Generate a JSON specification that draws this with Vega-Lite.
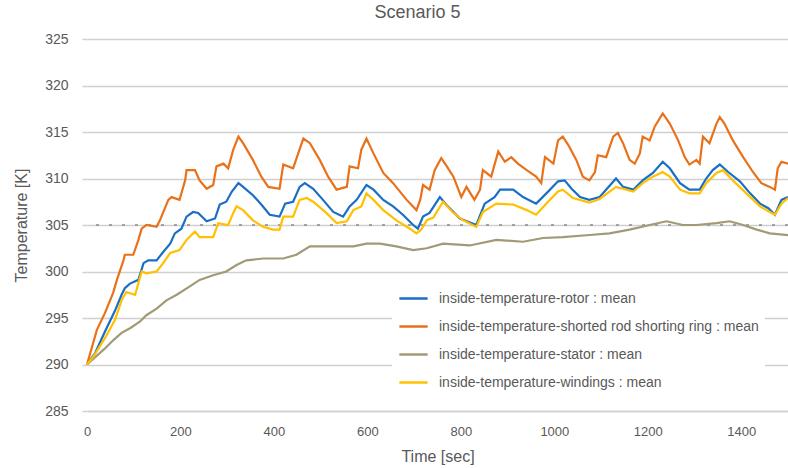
{
  "$schema": "https://vega.github.io/schema/vega-lite/v6.json",
  "width": 701,
  "height": 372,
  "autosize": {"type": "none"},
  "padding": {"left": 87, "top": 39, "right": 0, "bottom": 57},
  "background": "white",
  "config": {
    "font": "Liberation Sans",
    "view": {"stroke": null},
    "axis": {"labelColor": "#595959", "titleColor": "#595959", "titleFontWeight": "normal", "labelFontSize": 13, "titleFontSize": 16}
  },
  "title": {"text": "Scenario 5", "fontSize": 18, "fontWeight": "normal", "color": "#595959", "anchor": "middle", "dx": -20, "offset": 10},
  "datasets": {
    "series": [
      {"t": 0, "v": 290.0, "s": "inside-temperature-rotor : mean"},
      {"t": 17, "v": 291.2, "s": "inside-temperature-rotor : mean"},
      {"t": 38, "v": 293.5, "s": "inside-temperature-rotor : mean"},
      {"t": 60, "v": 295.8, "s": "inside-temperature-rotor : mean"},
      {"t": 74, "v": 297.5, "s": "inside-temperature-rotor : mean"},
      {"t": 81, "v": 298.2, "s": "inside-temperature-rotor : mean"},
      {"t": 92, "v": 298.7, "s": "inside-temperature-rotor : mean"},
      {"t": 110, "v": 299.1, "s": "inside-temperature-rotor : mean"},
      {"t": 121, "v": 300.9, "s": "inside-temperature-rotor : mean"},
      {"t": 131, "v": 301.2, "s": "inside-temperature-rotor : mean"},
      {"t": 149, "v": 301.2, "s": "inside-temperature-rotor : mean"},
      {"t": 163, "v": 302.1, "s": "inside-temperature-rotor : mean"},
      {"t": 178, "v": 303.0, "s": "inside-temperature-rotor : mean"},
      {"t": 188, "v": 304.1, "s": "inside-temperature-rotor : mean"},
      {"t": 202, "v": 304.6, "s": "inside-temperature-rotor : mean"},
      {"t": 213, "v": 305.9, "s": "inside-temperature-rotor : mean"},
      {"t": 227, "v": 306.4, "s": "inside-temperature-rotor : mean"},
      {"t": 238, "v": 306.3, "s": "inside-temperature-rotor : mean"},
      {"t": 256, "v": 305.4, "s": "inside-temperature-rotor : mean"},
      {"t": 274, "v": 305.7, "s": "inside-temperature-rotor : mean"},
      {"t": 284, "v": 307.2, "s": "inside-temperature-rotor : mean"},
      {"t": 298, "v": 307.5, "s": "inside-temperature-rotor : mean"},
      {"t": 310, "v": 308.6, "s": "inside-temperature-rotor : mean"},
      {"t": 324, "v": 309.5, "s": "inside-temperature-rotor : mean"},
      {"t": 334, "v": 309.1, "s": "inside-temperature-rotor : mean"},
      {"t": 355, "v": 308.2, "s": "inside-temperature-rotor : mean"},
      {"t": 373, "v": 307.2, "s": "inside-temperature-rotor : mean"},
      {"t": 391, "v": 306.1, "s": "inside-temperature-rotor : mean"},
      {"t": 412, "v": 305.9, "s": "inside-temperature-rotor : mean"},
      {"t": 424, "v": 307.3, "s": "inside-temperature-rotor : mean"},
      {"t": 441, "v": 307.5, "s": "inside-temperature-rotor : mean"},
      {"t": 455, "v": 309.1, "s": "inside-temperature-rotor : mean"},
      {"t": 466, "v": 309.5, "s": "inside-temperature-rotor : mean"},
      {"t": 484, "v": 308.9, "s": "inside-temperature-rotor : mean"},
      {"t": 505, "v": 307.7, "s": "inside-temperature-rotor : mean"},
      {"t": 527, "v": 306.4, "s": "inside-temperature-rotor : mean"},
      {"t": 548, "v": 305.9, "s": "inside-temperature-rotor : mean"},
      {"t": 562, "v": 307.0, "s": "inside-temperature-rotor : mean"},
      {"t": 577, "v": 307.7, "s": "inside-temperature-rotor : mean"},
      {"t": 598, "v": 309.3, "s": "inside-temperature-rotor : mean"},
      {"t": 613, "v": 308.8, "s": "inside-temperature-rotor : mean"},
      {"t": 634, "v": 307.7, "s": "inside-temperature-rotor : mean"},
      {"t": 655, "v": 307.0, "s": "inside-temperature-rotor : mean"},
      {"t": 676, "v": 306.1, "s": "inside-temperature-rotor : mean"},
      {"t": 698, "v": 305.0, "s": "inside-temperature-rotor : mean"},
      {"t": 708, "v": 304.6, "s": "inside-temperature-rotor : mean"},
      {"t": 719, "v": 305.9, "s": "inside-temperature-rotor : mean"},
      {"t": 733, "v": 306.3, "s": "inside-temperature-rotor : mean"},
      {"t": 755, "v": 308.0, "s": "inside-temperature-rotor : mean"},
      {"t": 772, "v": 307.0, "s": "inside-temperature-rotor : mean"},
      {"t": 798, "v": 305.7, "s": "inside-temperature-rotor : mean"},
      {"t": 833, "v": 305.0, "s": "inside-temperature-rotor : mean"},
      {"t": 851, "v": 307.3, "s": "inside-temperature-rotor : mean"},
      {"t": 872, "v": 308.0, "s": "inside-temperature-rotor : mean"},
      {"t": 884, "v": 308.8, "s": "inside-temperature-rotor : mean"},
      {"t": 912, "v": 308.8, "s": "inside-temperature-rotor : mean"},
      {"t": 933, "v": 308.0, "s": "inside-temperature-rotor : mean"},
      {"t": 961, "v": 307.3, "s": "inside-temperature-rotor : mean"},
      {"t": 983, "v": 308.4, "s": "inside-temperature-rotor : mean"},
      {"t": 1008, "v": 309.7, "s": "inside-temperature-rotor : mean"},
      {"t": 1022, "v": 309.8, "s": "inside-temperature-rotor : mean"},
      {"t": 1037, "v": 308.9, "s": "inside-temperature-rotor : mean"},
      {"t": 1055, "v": 308.0, "s": "inside-temperature-rotor : mean"},
      {"t": 1075, "v": 307.7, "s": "inside-temperature-rotor : mean"},
      {"t": 1097, "v": 308.0, "s": "inside-temperature-rotor : mean"},
      {"t": 1132, "v": 310.0, "s": "inside-temperature-rotor : mean"},
      {"t": 1147, "v": 309.1, "s": "inside-temperature-rotor : mean"},
      {"t": 1169, "v": 308.8, "s": "inside-temperature-rotor : mean"},
      {"t": 1189, "v": 309.8, "s": "inside-temperature-rotor : mean"},
      {"t": 1211, "v": 310.6, "s": "inside-temperature-rotor : mean"},
      {"t": 1232, "v": 311.8, "s": "inside-temperature-rotor : mean"},
      {"t": 1247, "v": 311.1, "s": "inside-temperature-rotor : mean"},
      {"t": 1269, "v": 309.5, "s": "inside-temperature-rotor : mean"},
      {"t": 1289, "v": 308.8, "s": "inside-temperature-rotor : mean"},
      {"t": 1311, "v": 308.8, "s": "inside-temperature-rotor : mean"},
      {"t": 1325, "v": 310.0, "s": "inside-temperature-rotor : mean"},
      {"t": 1339, "v": 310.9, "s": "inside-temperature-rotor : mean"},
      {"t": 1354, "v": 311.5, "s": "inside-temperature-rotor : mean"},
      {"t": 1372, "v": 310.7, "s": "inside-temperature-rotor : mean"},
      {"t": 1397, "v": 309.7, "s": "inside-temperature-rotor : mean"},
      {"t": 1419, "v": 308.4, "s": "inside-temperature-rotor : mean"},
      {"t": 1440, "v": 307.3, "s": "inside-temperature-rotor : mean"},
      {"t": 1458, "v": 306.8, "s": "inside-temperature-rotor : mean"},
      {"t": 1472, "v": 306.1, "s": "inside-temperature-rotor : mean"},
      {"t": 1486, "v": 307.7, "s": "inside-temperature-rotor : mean"},
      {"t": 1500, "v": 308.0, "s": "inside-temperature-rotor : mean"},

      {"t": 0, "v": 290.0, "s": "inside-temperature-shorted rod shorting ring : mean"},
      {"t": 21, "v": 293.7, "s": "inside-temperature-shorted rod shorting ring : mean"},
      {"t": 38, "v": 295.5, "s": "inside-temperature-shorted rod shorting ring : mean"},
      {"t": 56, "v": 297.7, "s": "inside-temperature-shorted rod shorting ring : mean"},
      {"t": 64, "v": 299.1, "s": "inside-temperature-shorted rod shorting ring : mean"},
      {"t": 78, "v": 301.2, "s": "inside-temperature-shorted rod shorting ring : mean"},
      {"t": 81, "v": 301.8, "s": "inside-temperature-shorted rod shorting ring : mean"},
      {"t": 99, "v": 301.8, "s": "inside-temperature-shorted rod shorting ring : mean"},
      {"t": 110, "v": 303.4, "s": "inside-temperature-shorted rod shorting ring : mean"},
      {"t": 117, "v": 304.6, "s": "inside-temperature-shorted rod shorting ring : mean"},
      {"t": 127, "v": 305.0, "s": "inside-temperature-shorted rod shorting ring : mean"},
      {"t": 149, "v": 304.8, "s": "inside-temperature-shorted rod shorting ring : mean"},
      {"t": 156, "v": 305.5, "s": "inside-temperature-shorted rod shorting ring : mean"},
      {"t": 174, "v": 307.7, "s": "inside-temperature-shorted rod shorting ring : mean"},
      {"t": 181, "v": 308.0, "s": "inside-temperature-shorted rod shorting ring : mean"},
      {"t": 198, "v": 307.7, "s": "inside-temperature-shorted rod shorting ring : mean"},
      {"t": 210, "v": 309.8, "s": "inside-temperature-shorted rod shorting ring : mean"},
      {"t": 213, "v": 310.9, "s": "inside-temperature-shorted rod shorting ring : mean"},
      {"t": 231, "v": 310.9, "s": "inside-temperature-shorted rod shorting ring : mean"},
      {"t": 241, "v": 309.8, "s": "inside-temperature-shorted rod shorting ring : mean"},
      {"t": 256, "v": 308.9, "s": "inside-temperature-shorted rod shorting ring : mean"},
      {"t": 270, "v": 309.3, "s": "inside-temperature-shorted rod shorting ring : mean"},
      {"t": 277, "v": 311.3, "s": "inside-temperature-shorted rod shorting ring : mean"},
      {"t": 292, "v": 311.6, "s": "inside-temperature-shorted rod shorting ring : mean"},
      {"t": 302, "v": 311.1, "s": "inside-temperature-shorted rod shorting ring : mean"},
      {"t": 313, "v": 313.1, "s": "inside-temperature-shorted rod shorting ring : mean"},
      {"t": 324, "v": 314.5, "s": "inside-temperature-shorted rod shorting ring : mean"},
      {"t": 334, "v": 313.8, "s": "inside-temperature-shorted rod shorting ring : mean"},
      {"t": 355, "v": 312.0, "s": "inside-temperature-shorted rod shorting ring : mean"},
      {"t": 373, "v": 310.2, "s": "inside-temperature-shorted rod shorting ring : mean"},
      {"t": 388, "v": 309.1, "s": "inside-temperature-shorted rod shorting ring : mean"},
      {"t": 412, "v": 308.9, "s": "inside-temperature-shorted rod shorting ring : mean"},
      {"t": 420, "v": 311.5, "s": "inside-temperature-shorted rod shorting ring : mean"},
      {"t": 441, "v": 311.1, "s": "inside-temperature-shorted rod shorting ring : mean"},
      {"t": 452, "v": 312.7, "s": "inside-temperature-shorted rod shorting ring : mean"},
      {"t": 463, "v": 314.3, "s": "inside-temperature-shorted rod shorting ring : mean"},
      {"t": 477, "v": 313.8, "s": "inside-temperature-shorted rod shorting ring : mean"},
      {"t": 498, "v": 312.0, "s": "inside-temperature-shorted rod shorting ring : mean"},
      {"t": 516, "v": 310.2, "s": "inside-temperature-shorted rod shorting ring : mean"},
      {"t": 534, "v": 308.8, "s": "inside-temperature-shorted rod shorting ring : mean"},
      {"t": 556, "v": 309.1, "s": "inside-temperature-shorted rod shorting ring : mean"},
      {"t": 562, "v": 311.3, "s": "inside-temperature-shorted rod shorting ring : mean"},
      {"t": 580, "v": 311.1, "s": "inside-temperature-shorted rod shorting ring : mean"},
      {"t": 587, "v": 313.1, "s": "inside-temperature-shorted rod shorting ring : mean"},
      {"t": 598, "v": 314.3, "s": "inside-temperature-shorted rod shorting ring : mean"},
      {"t": 613, "v": 312.7, "s": "inside-temperature-shorted rod shorting ring : mean"},
      {"t": 634, "v": 310.6, "s": "inside-temperature-shorted rod shorting ring : mean"},
      {"t": 655, "v": 309.5, "s": "inside-temperature-shorted rod shorting ring : mean"},
      {"t": 684, "v": 307.7, "s": "inside-temperature-shorted rod shorting ring : mean"},
      {"t": 705, "v": 306.6, "s": "inside-temperature-shorted rod shorting ring : mean"},
      {"t": 713, "v": 307.7, "s": "inside-temperature-shorted rod shorting ring : mean"},
      {"t": 719, "v": 309.3, "s": "inside-temperature-shorted rod shorting ring : mean"},
      {"t": 733, "v": 308.8, "s": "inside-temperature-shorted rod shorting ring : mean"},
      {"t": 744, "v": 310.9, "s": "inside-temperature-shorted rod shorting ring : mean"},
      {"t": 758, "v": 312.2, "s": "inside-temperature-shorted rod shorting ring : mean"},
      {"t": 770, "v": 311.3, "s": "inside-temperature-shorted rod shorting ring : mean"},
      {"t": 784, "v": 310.2, "s": "inside-temperature-shorted rod shorting ring : mean"},
      {"t": 801, "v": 308.0, "s": "inside-temperature-shorted rod shorting ring : mean"},
      {"t": 812, "v": 309.1, "s": "inside-temperature-shorted rod shorting ring : mean"},
      {"t": 829, "v": 307.7, "s": "inside-temperature-shorted rod shorting ring : mean"},
      {"t": 841, "v": 308.8, "s": "inside-temperature-shorted rod shorting ring : mean"},
      {"t": 847, "v": 310.9, "s": "inside-temperature-shorted rod shorting ring : mean"},
      {"t": 865, "v": 310.2, "s": "inside-temperature-shorted rod shorting ring : mean"},
      {"t": 880, "v": 312.9, "s": "inside-temperature-shorted rod shorting ring : mean"},
      {"t": 894, "v": 311.8, "s": "inside-temperature-shorted rod shorting ring : mean"},
      {"t": 908, "v": 312.3, "s": "inside-temperature-shorted rod shorting ring : mean"},
      {"t": 922, "v": 311.6, "s": "inside-temperature-shorted rod shorting ring : mean"},
      {"t": 941, "v": 310.9, "s": "inside-temperature-shorted rod shorting ring : mean"},
      {"t": 961, "v": 310.2, "s": "inside-temperature-shorted rod shorting ring : mean"},
      {"t": 972, "v": 309.5, "s": "inside-temperature-shorted rod shorting ring : mean"},
      {"t": 980, "v": 312.3, "s": "inside-temperature-shorted rod shorting ring : mean"},
      {"t": 998, "v": 311.6, "s": "inside-temperature-shorted rod shorting ring : mean"},
      {"t": 1008, "v": 314.1, "s": "inside-temperature-shorted rod shorting ring : mean"},
      {"t": 1018, "v": 314.5, "s": "inside-temperature-shorted rod shorting ring : mean"},
      {"t": 1030, "v": 313.6, "s": "inside-temperature-shorted rod shorting ring : mean"},
      {"t": 1047, "v": 312.0, "s": "inside-temperature-shorted rod shorting ring : mean"},
      {"t": 1061, "v": 310.2, "s": "inside-temperature-shorted rod shorting ring : mean"},
      {"t": 1075, "v": 309.8, "s": "inside-temperature-shorted rod shorting ring : mean"},
      {"t": 1087, "v": 310.7, "s": "inside-temperature-shorted rod shorting ring : mean"},
      {"t": 1093, "v": 312.5, "s": "inside-temperature-shorted rod shorting ring : mean"},
      {"t": 1111, "v": 312.3, "s": "inside-temperature-shorted rod shorting ring : mean"},
      {"t": 1126, "v": 314.5, "s": "inside-temperature-shorted rod shorting ring : mean"},
      {"t": 1136, "v": 314.9, "s": "inside-temperature-shorted rod shorting ring : mean"},
      {"t": 1147, "v": 313.8, "s": "inside-temperature-shorted rod shorting ring : mean"},
      {"t": 1161, "v": 312.0, "s": "inside-temperature-shorted rod shorting ring : mean"},
      {"t": 1172, "v": 311.6, "s": "inside-temperature-shorted rod shorting ring : mean"},
      {"t": 1183, "v": 312.7, "s": "inside-temperature-shorted rod shorting ring : mean"},
      {"t": 1189, "v": 314.5, "s": "inside-temperature-shorted rod shorting ring : mean"},
      {"t": 1204, "v": 314.1, "s": "inside-temperature-shorted rod shorting ring : mean"},
      {"t": 1215, "v": 315.6, "s": "inside-temperature-shorted rod shorting ring : mean"},
      {"t": 1232, "v": 317.0, "s": "inside-temperature-shorted rod shorting ring : mean"},
      {"t": 1247, "v": 315.9, "s": "inside-temperature-shorted rod shorting ring : mean"},
      {"t": 1265, "v": 314.1, "s": "inside-temperature-shorted rod shorting ring : mean"},
      {"t": 1279, "v": 312.3, "s": "inside-temperature-shorted rod shorting ring : mean"},
      {"t": 1289, "v": 311.5, "s": "inside-temperature-shorted rod shorting ring : mean"},
      {"t": 1304, "v": 312.0, "s": "inside-temperature-shorted rod shorting ring : mean"},
      {"t": 1311, "v": 311.6, "s": "inside-temperature-shorted rod shorting ring : mean"},
      {"t": 1318, "v": 314.5, "s": "inside-temperature-shorted rod shorting ring : mean"},
      {"t": 1332, "v": 313.8, "s": "inside-temperature-shorted rod shorting ring : mean"},
      {"t": 1347, "v": 315.9, "s": "inside-temperature-shorted rod shorting ring : mean"},
      {"t": 1354, "v": 316.6, "s": "inside-temperature-shorted rod shorting ring : mean"},
      {"t": 1364, "v": 315.9, "s": "inside-temperature-shorted rod shorting ring : mean"},
      {"t": 1382, "v": 314.1, "s": "inside-temperature-shorted rod shorting ring : mean"},
      {"t": 1404, "v": 312.3, "s": "inside-temperature-shorted rod shorting ring : mean"},
      {"t": 1425, "v": 310.7, "s": "inside-temperature-shorted rod shorting ring : mean"},
      {"t": 1443, "v": 309.5, "s": "inside-temperature-shorted rod shorting ring : mean"},
      {"t": 1461, "v": 309.1, "s": "inside-temperature-shorted rod shorting ring : mean"},
      {"t": 1472, "v": 308.8, "s": "inside-temperature-shorted rod shorting ring : mean"},
      {"t": 1478, "v": 311.1, "s": "inside-temperature-shorted rod shorting ring : mean"},
      {"t": 1486, "v": 311.8, "s": "inside-temperature-shorted rod shorting ring : mean"},
      {"t": 1500, "v": 311.6, "s": "inside-temperature-shorted rod shorting ring : mean"},

      {"t": 0, "v": 290.0, "s": "inside-temperature-stator : mean"},
      {"t": 38, "v": 291.7, "s": "inside-temperature-stator : mean"},
      {"t": 56, "v": 292.6, "s": "inside-temperature-stator : mean"},
      {"t": 74, "v": 293.4, "s": "inside-temperature-stator : mean"},
      {"t": 92, "v": 293.9, "s": "inside-temperature-stator : mean"},
      {"t": 113, "v": 294.6, "s": "inside-temperature-stator : mean"},
      {"t": 127, "v": 295.3, "s": "inside-temperature-stator : mean"},
      {"t": 149, "v": 296.0, "s": "inside-temperature-stator : mean"},
      {"t": 170, "v": 296.9, "s": "inside-temperature-stator : mean"},
      {"t": 192, "v": 297.5, "s": "inside-temperature-stator : mean"},
      {"t": 220, "v": 298.4, "s": "inside-temperature-stator : mean"},
      {"t": 241, "v": 299.1, "s": "inside-temperature-stator : mean"},
      {"t": 270, "v": 299.6, "s": "inside-temperature-stator : mean"},
      {"t": 298, "v": 300.0, "s": "inside-temperature-stator : mean"},
      {"t": 320, "v": 300.7, "s": "inside-temperature-stator : mean"},
      {"t": 341, "v": 301.2, "s": "inside-temperature-stator : mean"},
      {"t": 377, "v": 301.4, "s": "inside-temperature-stator : mean"},
      {"t": 420, "v": 301.4, "s": "inside-temperature-stator : mean"},
      {"t": 448, "v": 301.8, "s": "inside-temperature-stator : mean"},
      {"t": 477, "v": 302.7, "s": "inside-temperature-stator : mean"},
      {"t": 527, "v": 302.7, "s": "inside-temperature-stator : mean"},
      {"t": 570, "v": 302.7, "s": "inside-temperature-stator : mean"},
      {"t": 598, "v": 303.0, "s": "inside-temperature-stator : mean"},
      {"t": 627, "v": 303.0, "s": "inside-temperature-stator : mean"},
      {"t": 662, "v": 302.7, "s": "inside-temperature-stator : mean"},
      {"t": 698, "v": 302.3, "s": "inside-temperature-stator : mean"},
      {"t": 727, "v": 302.5, "s": "inside-temperature-stator : mean"},
      {"t": 762, "v": 303.0, "s": "inside-temperature-stator : mean"},
      {"t": 819, "v": 302.8, "s": "inside-temperature-stator : mean"},
      {"t": 876, "v": 303.4, "s": "inside-temperature-stator : mean"},
      {"t": 933, "v": 303.2, "s": "inside-temperature-stator : mean"},
      {"t": 976, "v": 303.6, "s": "inside-temperature-stator : mean"},
      {"t": 1018, "v": 303.7, "s": "inside-temperature-stator : mean"},
      {"t": 1069, "v": 303.9, "s": "inside-temperature-stator : mean"},
      {"t": 1118, "v": 304.1, "s": "inside-temperature-stator : mean"},
      {"t": 1161, "v": 304.5, "s": "inside-temperature-stator : mean"},
      {"t": 1204, "v": 305.0, "s": "inside-temperature-stator : mean"},
      {"t": 1240, "v": 305.4, "s": "inside-temperature-stator : mean"},
      {"t": 1275, "v": 305.0, "s": "inside-temperature-stator : mean"},
      {"t": 1304, "v": 305.0, "s": "inside-temperature-stator : mean"},
      {"t": 1347, "v": 305.2, "s": "inside-temperature-stator : mean"},
      {"t": 1375, "v": 305.4, "s": "inside-temperature-stator : mean"},
      {"t": 1404, "v": 305.0, "s": "inside-temperature-stator : mean"},
      {"t": 1433, "v": 304.5, "s": "inside-temperature-stator : mean"},
      {"t": 1461, "v": 304.1, "s": "inside-temperature-stator : mean"},
      {"t": 1500, "v": 303.9, "s": "inside-temperature-stator : mean"},

      {"t": 0, "v": 290.0, "s": "inside-temperature-windings : mean"},
      {"t": 13, "v": 290.8, "s": "inside-temperature-windings : mean"},
      {"t": 38, "v": 292.8, "s": "inside-temperature-windings : mean"},
      {"t": 60, "v": 294.8, "s": "inside-temperature-windings : mean"},
      {"t": 74, "v": 296.9, "s": "inside-temperature-windings : mean"},
      {"t": 84, "v": 297.8, "s": "inside-temperature-windings : mean"},
      {"t": 103, "v": 297.5, "s": "inside-temperature-windings : mean"},
      {"t": 117, "v": 300.0, "s": "inside-temperature-windings : mean"},
      {"t": 127, "v": 299.8, "s": "inside-temperature-windings : mean"},
      {"t": 149, "v": 300.0, "s": "inside-temperature-windings : mean"},
      {"t": 163, "v": 300.9, "s": "inside-temperature-windings : mean"},
      {"t": 178, "v": 302.0, "s": "inside-temperature-windings : mean"},
      {"t": 198, "v": 302.3, "s": "inside-temperature-windings : mean"},
      {"t": 213, "v": 303.4, "s": "inside-temperature-windings : mean"},
      {"t": 231, "v": 304.3, "s": "inside-temperature-windings : mean"},
      {"t": 241, "v": 303.7, "s": "inside-temperature-windings : mean"},
      {"t": 270, "v": 303.7, "s": "inside-temperature-windings : mean"},
      {"t": 281, "v": 305.2, "s": "inside-temperature-windings : mean"},
      {"t": 302, "v": 305.0, "s": "inside-temperature-windings : mean"},
      {"t": 313, "v": 306.3, "s": "inside-temperature-windings : mean"},
      {"t": 320, "v": 307.0, "s": "inside-temperature-windings : mean"},
      {"t": 334, "v": 306.6, "s": "inside-temperature-windings : mean"},
      {"t": 355, "v": 305.5, "s": "inside-temperature-windings : mean"},
      {"t": 377, "v": 304.8, "s": "inside-temperature-windings : mean"},
      {"t": 398, "v": 304.5, "s": "inside-temperature-windings : mean"},
      {"t": 412, "v": 304.5, "s": "inside-temperature-windings : mean"},
      {"t": 420, "v": 305.9, "s": "inside-temperature-windings : mean"},
      {"t": 441, "v": 305.9, "s": "inside-temperature-windings : mean"},
      {"t": 455, "v": 307.7, "s": "inside-temperature-windings : mean"},
      {"t": 470, "v": 307.9, "s": "inside-temperature-windings : mean"},
      {"t": 484, "v": 307.5, "s": "inside-temperature-windings : mean"},
      {"t": 512, "v": 306.3, "s": "inside-temperature-windings : mean"},
      {"t": 534, "v": 305.2, "s": "inside-temperature-windings : mean"},
      {"t": 556, "v": 305.4, "s": "inside-temperature-windings : mean"},
      {"t": 570, "v": 306.6, "s": "inside-temperature-windings : mean"},
      {"t": 587, "v": 307.0, "s": "inside-temperature-windings : mean"},
      {"t": 598, "v": 308.4, "s": "inside-temperature-windings : mean"},
      {"t": 613, "v": 307.7, "s": "inside-temperature-windings : mean"},
      {"t": 634, "v": 306.6, "s": "inside-temperature-windings : mean"},
      {"t": 662, "v": 305.5, "s": "inside-temperature-windings : mean"},
      {"t": 691, "v": 304.6, "s": "inside-temperature-windings : mean"},
      {"t": 705, "v": 304.1, "s": "inside-temperature-windings : mean"},
      {"t": 715, "v": 304.5, "s": "inside-temperature-windings : mean"},
      {"t": 727, "v": 305.5, "s": "inside-temperature-windings : mean"},
      {"t": 741, "v": 305.8, "s": "inside-temperature-windings : mean"},
      {"t": 762, "v": 307.5, "s": "inside-temperature-windings : mean"},
      {"t": 784, "v": 306.3, "s": "inside-temperature-windings : mean"},
      {"t": 805, "v": 305.5, "s": "inside-temperature-windings : mean"},
      {"t": 833, "v": 304.8, "s": "inside-temperature-windings : mean"},
      {"t": 847, "v": 306.4, "s": "inside-temperature-windings : mean"},
      {"t": 876, "v": 307.3, "s": "inside-temperature-windings : mean"},
      {"t": 912, "v": 307.2, "s": "inside-temperature-windings : mean"},
      {"t": 941, "v": 306.6, "s": "inside-temperature-windings : mean"},
      {"t": 961, "v": 306.1, "s": "inside-temperature-windings : mean"},
      {"t": 983, "v": 307.3, "s": "inside-temperature-windings : mean"},
      {"t": 1008, "v": 308.6, "s": "inside-temperature-windings : mean"},
      {"t": 1018, "v": 308.8, "s": "inside-temperature-windings : mean"},
      {"t": 1040, "v": 307.9, "s": "inside-temperature-windings : mean"},
      {"t": 1075, "v": 307.4, "s": "inside-temperature-windings : mean"},
      {"t": 1097, "v": 307.8, "s": "inside-temperature-windings : mean"},
      {"t": 1132, "v": 309.1, "s": "inside-temperature-windings : mean"},
      {"t": 1169, "v": 308.6, "s": "inside-temperature-windings : mean"},
      {"t": 1189, "v": 309.5, "s": "inside-temperature-windings : mean"},
      {"t": 1211, "v": 310.2, "s": "inside-temperature-windings : mean"},
      {"t": 1232, "v": 310.7, "s": "inside-temperature-windings : mean"},
      {"t": 1247, "v": 310.2, "s": "inside-temperature-windings : mean"},
      {"t": 1269, "v": 308.8, "s": "inside-temperature-windings : mean"},
      {"t": 1289, "v": 308.4, "s": "inside-temperature-windings : mean"},
      {"t": 1311, "v": 308.4, "s": "inside-temperature-windings : mean"},
      {"t": 1325, "v": 309.5, "s": "inside-temperature-windings : mean"},
      {"t": 1347, "v": 310.6, "s": "inside-temperature-windings : mean"},
      {"t": 1361, "v": 310.9, "s": "inside-temperature-windings : mean"},
      {"t": 1382, "v": 309.8, "s": "inside-temperature-windings : mean"},
      {"t": 1411, "v": 308.4, "s": "inside-temperature-windings : mean"},
      {"t": 1440, "v": 307.0, "s": "inside-temperature-windings : mean"},
      {"t": 1461, "v": 306.4, "s": "inside-temperature-windings : mean"},
      {"t": 1472, "v": 306.1, "s": "inside-temperature-windings : mean"},
      {"t": 1486, "v": 307.3, "s": "inside-temperature-windings : mean"},
      {"t": 1500, "v": 307.9, "s": "inside-temperature-windings : mean"}
    ]
  },
  "layer": [
    {
      "data": {"values": [{"ref": 305}]},
      "mark": {"type": "rule", "color": "#8c8c8c", "strokeDash": [3, 10], "strokeWidth": 1.5},
      "encoding": {"y": {"field": "ref", "type": "quantitative"}}
    },
    {
      "data": {"name": "series"},
      "mark": {"type": "line", "strokeWidth": 2.2, "interpolate": "linear"},
      "encoding": {
        "x": {
          "field": "t", "type": "quantitative",
          "scale": {"domain": [0, 1500], "nice": false},
          "axis": {"title": "Time [sec]", "values": [0, 200, 400, 600, 800, 1000, 1200, 1400], "format": "d", "grid": false, "ticks": false, "domainColor": "#d0d0d0", "domainWidth": 1.5, "labelPadding": 14, "titlePadding": 10, "labelFlush": false}
        },
        "y": {
          "field": "v", "type": "quantitative",
          "scale": {"domain": [285, 325], "nice": false, "zero": false},
          "axis": {"title": "Temperature [K]", "values": [285, 290, 295, 300, 305, 310, 315, 320, 325], "grid": true, "gridColor": "#d0d0d0", "gridWidth": 1.5, "domain": false, "tickColor": "#d0d0d0", "tickSize": 5, "tickWidth": 1.5, "labelFontSize": 14, "labelPadding": 14, "titlePadding": 15}
        },
        "color": {
          "field": "s", "type": "nominal",
          "scale": {
            "domain": ["inside-temperature-rotor : mean", "inside-temperature-shorted rod shorting ring : mean", "inside-temperature-stator : mean", "inside-temperature-windings : mean"],
            "range": ["#1a6fc4", "#e8711a", "#a09a76", "#ffc000"]
          },
          "legend": {"orient": "none", "legendX": 305, "legendY": 238, "title": null, "symbolType": "stroke", "symbolSize": 800, "symbolStrokeWidth": 2.5, "labelFontSize": 14, "labelColor": "#595959", "rowPadding": 5, "padding": 6, "fillColor": "white", "labelOffset": 10, "labelLimit": 400}
        }
      }
    }
  ]
}
